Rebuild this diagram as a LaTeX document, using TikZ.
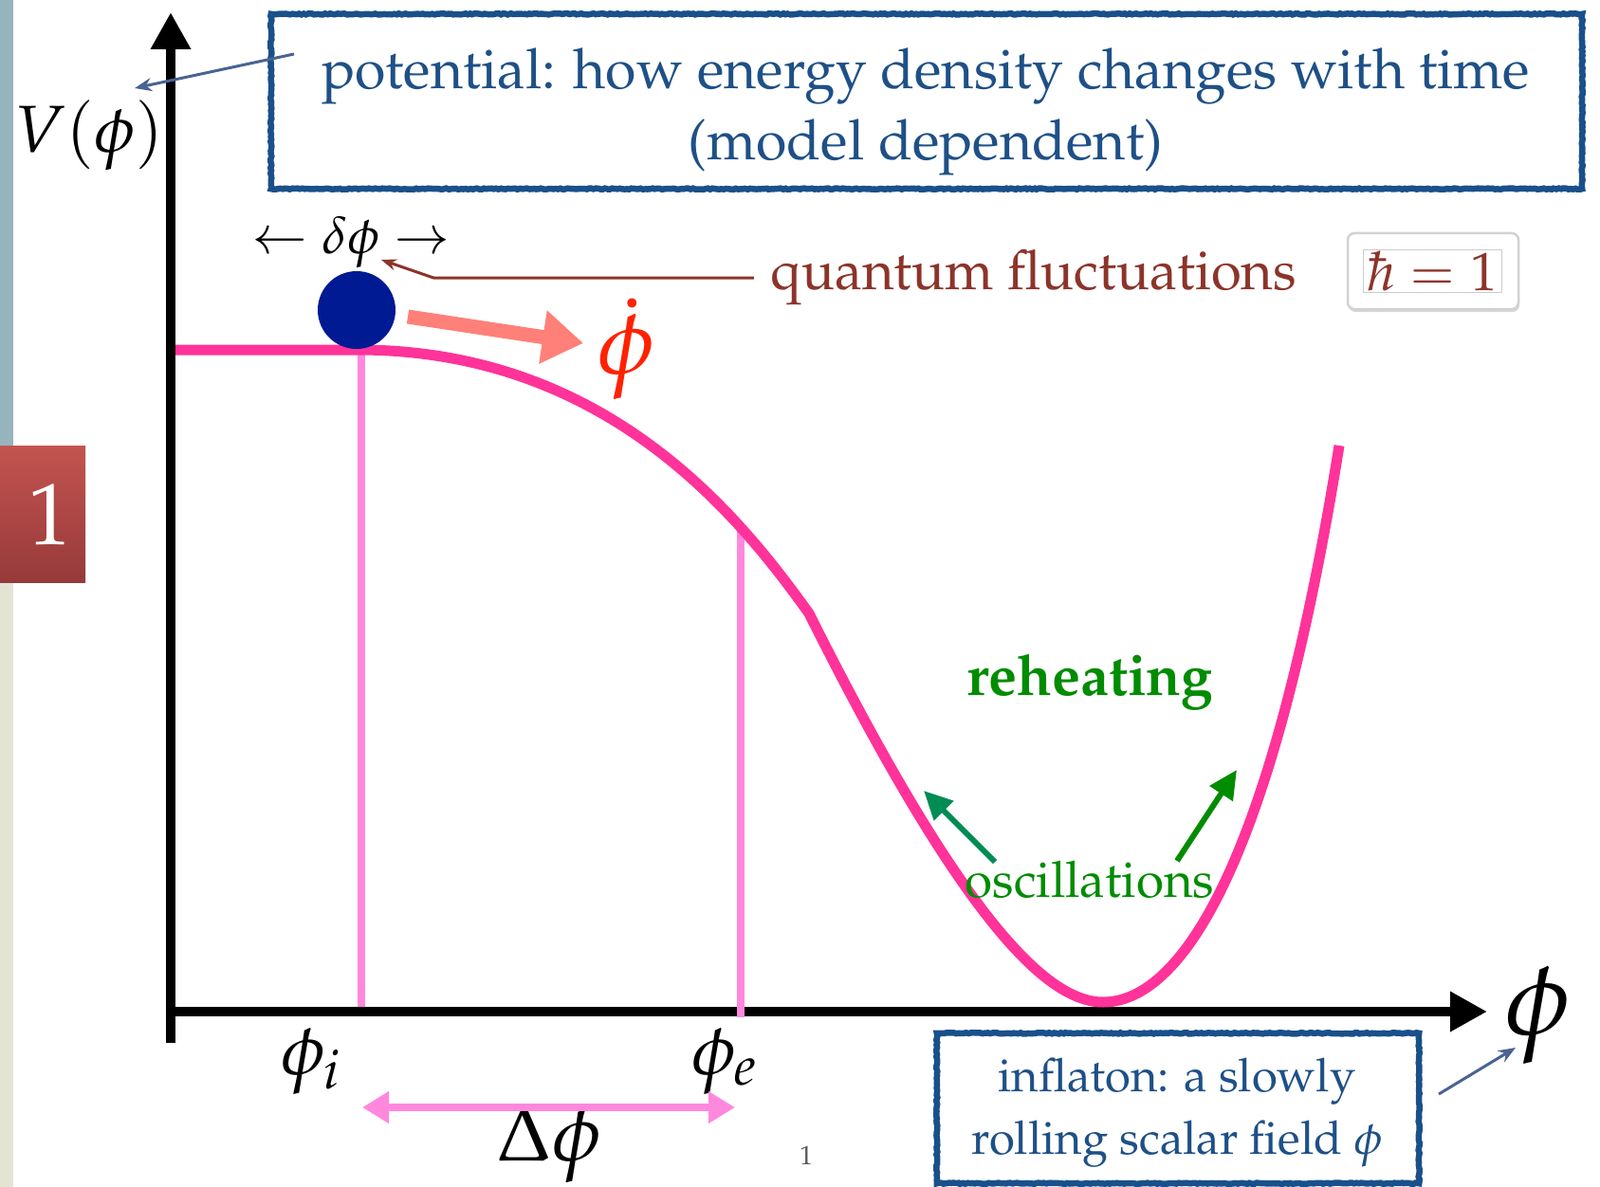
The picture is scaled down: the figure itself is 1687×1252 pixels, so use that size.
\documentclass[tikz,border=0pt]{standalone}
\usepackage[T1]{fontenc}
\usepackage{mathpazo}
\usetikzlibrary{arrows.meta,shadows,decorations.pathmorphing}
\definecolor{stripblue}{RGB}{150,180,190}
\definecolor{stripbeige}{RGB}{228,228,212}
\definecolor{pagetop}{RGB}{196,84,80}
\definecolor{pagebot}{RGB}{150,58,58}
\definecolor{boxblue}{RGB}{26,80,138}
\definecolor{txtblue}{RGB}{30,80,135}
\definecolor{hotpink}{RGB}{255,51,153}
\definecolor{lightpink}{RGB}{255,136,221}
\definecolor{navyball}{RGB}{0,26,148}
\definecolor{salmon}{RGB}{255,128,120}
\definecolor{phired}{RGB}{255,34,0}
\definecolor{qbrown}{RGB}{140,52,42}
\definecolor{slate}{RGB}{74,99,148}
\definecolor{regreen}{RGB}{0,140,0}
\definecolor{tealgreen}{RGB}{0,140,85}
\newcommand{\sz}[2]{\fontsize{#1}{#2}\selectfont}
\begin{document}
\begin{tikzpicture}[x=1pt,y=-1pt,
  lbl/.style={inner sep=0pt, outer sep=0pt},
  bluebox/.style={fill=white, inner sep=0pt},
  chalk/.style={draw=boxblue, line width=6.5pt, decorate, decoration={random steps, segment length=2.5pt, amplitude=0.6pt}},
  axisline/.style={line width=10pt, -{Triangle[length=39pt,width=40pt]}},
  guide/.style={draw=lightpink, line width=8pt},
  pointer/.style={draw=slate, line width=3pt, -{Stealth[length=18pt,width=14pt]}},
  osc/.style={line width=6pt, -{Triangle[length=30pt,width=28pt]}},
]
\useasboundingbox (0,0) rectangle (1687,1252);
\fill[white] (0,0) rectangle (1687,1252);
\fill[stripblue] (0,0) rectangle (14,470);
\fill[stripbeige] (0,614) rectangle (14,1252);
\shade[top color=pagetop, bottom color=pagebot] (0,470) rectangle (90,614);
\node[lbl, text=white, font=\sz{92}{92}] (slide) at (52,543) {1};

% boxes
\node[bluebox, minimum width=1382pt, minimum height=184pt] (topbox) at (977,107) {};
\draw[chalk] (topbox.north west) rectangle (topbox.south east);
\node[lbl, text=txtblue, align=center, font=\sz{59}{75}] (toptxt) at (976,118) {potential: how energy density changes with time\\(model dependent)};
\node[bluebox, minimum width=508pt, minimum height=158pt] (botbox) at (1242,1169) {};
\draw[chalk] (botbox.north west) rectangle (botbox.south east);
\node[lbl, text=txtblue, align=center, font=\sz{49}{66}] (bottxt) at (1241,1174) {inflaton: a slowly\\rolling scalar field $\phi$};

% guide at phi_i
\draw[guide] (381,372) -- (381,1063);

% axes
\coordinate (ybot) at (180,1100);
\coordinate (ytop) at (180,13);
\coordinate (xleft) at (176,1067);
\coordinate (xright) at (1568,1067);
\draw[axisline] (ybot) -- (ytop);
\draw[axisline] (xleft) -- (xright);
\draw[guide] (781,556) -- (781,1073);

% potential
\draw[hotpink, line width=11pt] (185,369) -- (377,369) .. controls (640,369) and (780,545) .. (853,647) .. controls (1013,967) and (1103,1057) .. (1163,1057) .. controls (1243,1057) and (1340,920) .. (1412,470);

\node[circle, fill=navyball, minimum size=82pt, inner sep=0pt] (ball) at (376,327) {};

% labels
\node[lbl, font=\sz{70}{70}] (vlab) at (94,143) {$V(\phi)$};
\node[lbl, font=\sz{112}{112}] (xlab) at (1621,1071) {$\phi$};
\node[lbl, font=\sz{76}{76}] (phii) at (328,1119) {$\phi_i$};
\node[lbl, font=\sz{76}{76}] (phie) at (764,1119) {$\phi_e$};
\node[lbl, font=\sz{84}{84}] (dlab) at (579,1207) {$\Delta\phi$};
\coordinate (dl) at (382,1168);
\coordinate (dr) at (775,1168);
\draw[draw=lightpink, line width=8pt, {Triangle[length=28pt,width=32pt]}-{Triangle[length=28pt,width=32pt]}] (dl) -- (dr);
\node[lbl, text=black!65, font=\sz{28}{28}] (pnum) at (850,1219) {1};

% delta phi and quantum fluctuations
\node[lbl, font=\sz{55}{55}] (dphi) at (370,256) {$\leftarrow\delta\phi\rightarrow$};
\node[lbl, text=qbrown, font=\sz{58}{58}] (qf) at (1090,293) {quantum fluctuations};
\coordinate (qk) at (457,293);
\coordinate (qtip) at (402,274);
\draw[qbrown, line width=3pt, -{Stealth[length=16pt,width=12pt]}, shorten <=18pt] (qf.west) -- (qk) -- (qtip);

% hbar box
\node[draw=gray!35, line width=2.5pt, rounded corners=7pt, fill=white, minimum width=180pt, minimum height=80pt, drop shadow={opacity=0.3, shadow xshift=1pt, shadow yshift=-3pt}] (hbox) at (1511,286) {};
\node[draw=gray!40, line width=1pt, text=qbrown, font=\sz{57}{57}, inner sep=1pt, minimum width=146pt, minimum height=43pt] (htxt) at (1510,286) {$\hbar = 1$};

% phidot and rolling arrow
\node[lbl, text=phired, font=\sz{98}{98}] (phidot) at (660,368) {$\dot\phi$};
\coordinate (sa) at (430,334);
\coordinate (sb) at (615,362);
\draw[salmon, line width=15pt, -{Triangle[length=43pt,width=54pt]}] (sa) -- (sb);

% reheating
\node[lbl, text=regreen, font=\bfseries\sz{60}{60}] (reh) at (1149,719) {reheating};
\node[lbl, text=regreen, font=\sz{53}{53}] (oscl) at (1149,928) {oscillations};
\coordinate (g1a) at (1049,909);
\coordinate (g1b) at (974,834);
\draw[osc, tealgreen] (g1a) -- (g1b);
\coordinate (g2a) at (1241,908);
\coordinate (g2b) at (1304,812);
\draw[osc, regreen] (g2a) -- (g2b);

% pointers
\coordinate (ta) at (310,57);
\coordinate (tb) at (142,93);
\draw[pointer] (ta) -- (tb);
\coordinate (ba) at (1517,1154);
\coordinate (bb) at (1598,1105);
\draw[pointer] (ba) -- (bb);
\end{tikzpicture}
\end{document}
